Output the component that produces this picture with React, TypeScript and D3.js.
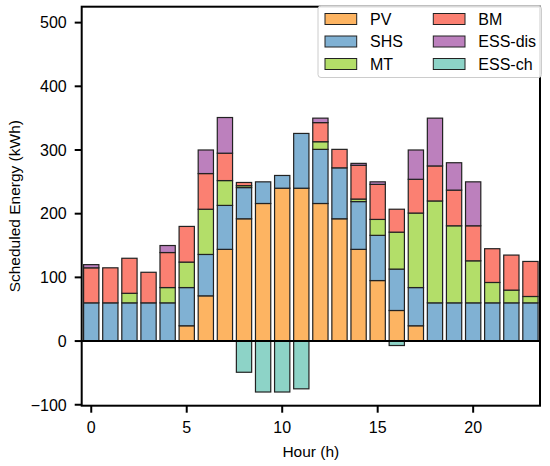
import React from 'react';
import * as d3 from 'd3';

const hours = d3.range(24);
const PV = [0, 0, 0, 0, 0, 24, 71, 144, 192, 216, 240, 240, 216, 192, 144, 95, 48, 24, 0, 0, 0, 0, 0, 0];
const SHS = [60, 60, 60, 60, 60, 60, 65, 69, 49, 34, 20, 86, 85, 80, 75, 71, 65, 60, 60, 60, 60, 60, 60, 60];
const MT = [0, 0, 15, 0, 24, 40, 71, 39, 3, 0, 0, 0, 12, 0, 4, 25, 58, 117, 160, 121, 66, 32, 20, 10];
const BM = [55, 55, 55, 48, 55, 56, 56, 43, 5, 0, 0, 0, 30, 29, 53, 55, 36, 53, 55, 56, 55, 53, 55, 55];
const ESS_DIS = [5, 0, 0, 0, 11, 0, 37, 56, 0, 0, 0, 0, 7, 0, 3, 4, 0, 46, 75, 43, 69, 0, 0, 0];
const ESS_CH = [0, 0, 0, 0, 0, 0, 0, 0, -49, -80, -80, -75, 0, 0, 0, 0, -7, 0, 0, 0, 0, 0, 0, 0];

const keys = ['PV', 'SHS', 'MT', 'BM', 'ESS-dis'];
const seriesValues: Record<string, number[]> = { PV, SHS, MT, BM, 'ESS-dis': ESS_DIS };
const COLORS: Record<string, string> = {
  PV: '#FDB462',
  SHS: '#80B1D3',
  MT: '#B3DE69',
  BM: '#FB8072',
  'ESS-dis': '#BC80BD',
  'ESS-ch': '#8DD3C7',
};
const legendOrder = [['PV', 'SHS', 'MT'], ['BM', 'ESS-dis', 'ESS-ch']];
const yTicks = [-100, 0, 100, 200, 300, 400, 500];
const xTicks = [0, 5, 10, 15, 20];

const W = 550;
const H = 466;
const margin = { left: 81.7, right: 10, top: 6.7, bottom: 60.3 };
const FONT = '"Liberation Sans", Arial, sans-serif';

export default function App() {
  const x = d3.scaleLinear().domain([-0.5, 23.5]).range([margin.left, W - margin.right]);
  const y = d3.scaleLinear().domain([-101.5, 525]).range([H - margin.bottom, margin.top]);
  const barW = x(0.8) - x(0);

  const rows = hours.map((h, i) => {
    const r: Record<string, number> = { hour: h };
    keys.forEach(k => (r[k] = seriesValues[k][i]));
    return r;
  });
  const stacked = d3.stack<Record<string, number>>().keys(keys)(rows);

  const x0 = margin.left;
  const x1 = W - margin.right;
  const y0 = margin.top;
  const y1 = H - margin.bottom;

  return (
    <div style={{ position: 'absolute', left: 0, top: 0 }}>
      <svg width={W} height={H} style={{ display: 'block', fontFamily: FONT }}>
        <rect width={W} height={H} fill="#fff" />
        {stacked.map(s => (
          <g key={s.key} fill={COLORS[s.key]} stroke="#222" strokeWidth={1.2}>
            {s.map((d, i) =>
              d[1] - d[0] > 0 ? (
                <rect key={i} x={x(hours[i]) - barW / 2} y={y(d[1])} width={barW} height={y(d[0]) - y(d[1])} />
              ) : null
            )}
          </g>
        ))}
        <g fill={COLORS['ESS-ch']} stroke="#222" strokeWidth={1.2}>
          {ESS_CH.map((v, i) =>
            v < 0 ? <rect key={i} x={x(hours[i]) - barW / 2} y={y(0)} width={barW} height={y(v) - y(0)} /> : null
          )}
        </g>
        <line x1={x0} x2={x1} y1={y(0)} y2={y(0)} stroke="#000" strokeWidth={2} />

        {/* spines */}
        <rect x={x0} y={y0} width={x1 - x0} height={y1 - y0} fill="none" stroke="#000" strokeWidth={2} />

        {/* y axis */}
        {yTicks.map(t => (
          <g key={t}>
            <line x1={x0 - 7} x2={x0} y1={y(t)} y2={y(t)} stroke="#000" strokeWidth={2} />
            <text x={x0 - 15} y={y(t)} dy="0.36em" textAnchor="end" fontSize={16}>
              {t < 0 ? `\u2212${-t}` : t}
            </text>
          </g>
        ))}
        {/* x axis */}
        {xTicks.map(t => (
          <g key={t}>
            <line x1={x(t)} x2={x(t)} y1={y1} y2={y1 + 7} stroke="#000" strokeWidth={2} />
            <text x={x(t)} y={y1 + 27} textAnchor="middle" fontSize={16}>
              {t}
            </text>
          </g>
        ))}

        <text x={(x0 + x1) / 2} y={457} textAnchor="middle" fontSize={15.5}>
          Hour (h)
        </text>
        <text
          transform={`translate(19.5,${(y0 + y1) / 2}) rotate(-90)`}
          textAnchor="middle"
          fontSize={15.5}
        >
          Scheduled Energy (kWh)
        </text>

        {/* legend */}
        <g>
          <rect x={318} y={6} width={223.5} height={71.5} rx={3} fill="#fff" fillOpacity={0.9} stroke="#ccc" strokeWidth={1} />
          {legendOrder.map((col, ci) =>
            col.map((k, ri) => {
              const px = ci === 0 ? 325 : 433.3;
              const cy = 19 + ri * 22.5;
              return (
                <g key={k}>
                  <rect x={px} y={cy - 5.5} width={31.7} height={11} fill={COLORS[k]} stroke="#222" strokeWidth={1} />
                  <text x={px + 45} y={cy} dy="0.36em" fontSize={16}>
                    {k}
                  </text>
                </g>
              );
            })
          )}
        </g>
      </svg>
    </div>
  );
}
